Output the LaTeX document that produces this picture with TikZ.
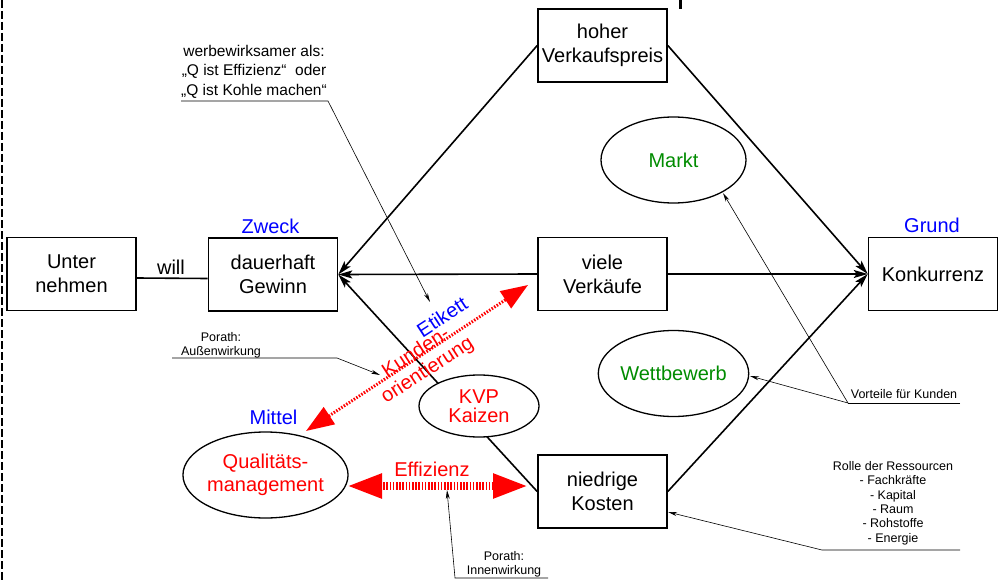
\documentclass[tikz,border=0pt]{standalone}
\usepackage{fontspec}
\setmainfont{Liberation Sans}
\usetikzlibrary{arrows.meta,shapes.geometric}
\definecolor{myblue}{RGB}{0,0,255}
\definecolor{mygreen}{RGB}{0,140,0}
\definecolor{myred}{RGB}{255,0,0}
\begin{document}
\begin{tikzpicture}[x=1pt,y=-1pt,
  box/.style={draw, line width=1.6pt, minimum width=129pt, minimum height=73pt, inner sep=0pt, align=center, font=\fontsize{20pt}{24pt}\selectfont},
  ell/.style={draw, ellipse, line width=1.3pt, minimum width=145pt, minimum height=86pt, inner sep=0pt, align=center, fill=white, font=\fontsize{20pt}{24pt}\selectfont},
  lbl/.style={font=\fontsize{20pt}{24pt}\selectfont, inner sep=0pt, anchor=base},
  conn/.style={line width=1.6pt, -{Stealth[length=14pt,width=8pt,inset=3pt]}},
  lead/.style={line width=0.6pt},
  leadarr/.style={lead, -{Stealth[length=9pt,width=4pt]}},
  small/.style={font=\fontsize{12.5pt}{14.4pt}\selectfont, inner sep=0pt, align=center},
  redarrow/.style={myred, dash pattern=on 1.5pt off 1.5pt}
]
\useasboundingbox (0,0) rectangle (1008,580);

% left dashed border and top mark
\draw[line width=2pt, dash pattern=on 8pt off 3pt] (2,0) -- (2,580);
\fill (679,0) rectangle (682,9);

% boxes
\node[box] (unt) at (71.5,274) {Unter\\nehmen};
\node[box] (gew) at (273,274.5) {dauerhaft\\Gewinn};
\node[box] (hvp) at (602.5,45.5) {hoher\\Verkaufspreis};
\node[box] (vv) at (602.5,274) {viele\\Verk\"aufe};
\node[box] (kon) at (933,274) {Konkurrenz};
\node[box] (nk) at (602.5,491.5) {niedrige\\Kosten};

% connectors
\draw[line width=1.6pt] ([yshift=-4pt]unt.east) -- ([yshift=-4pt]gew.west);
\node[lbl] (will) at (171,274) {will};
\draw[conn] (hvp.west) -- (gew.east);
\draw[conn] (hvp.east) -- (kon.west);
\draw[conn] (vv.west) -- (gew.east);
\draw[conn] (vv.east) -- (kon.west);
\draw[conn] (nk.west) -- (gew.east);
\draw[conn] (nk.east) -- (kon.west);

% ellipses
\node[ell, minimum width=120pt, minimum height=62pt, text=myred, font=\fontsize{20pt}{19.5pt}\selectfont] (kvp) at (479,406) {KVP\\Kaizen};
\node[ell, text=mygreen] (markt) at (673.5,160) {Markt};
\node[ell, text=mygreen] (wett) at (673.5,373.5) {Wettbewerb};
\node[ell, text=myred, font=\fontsize{20pt}{23pt}\selectfont] (qm) at (265.5,475) {Qualit\"ats-\\management};

% blue labels
\node[lbl, text=myblue] (zweck) at (270.5,233) {Zweck};
\node[lbl, text=myblue] (grund) at (932,232) {Grund};
\node[lbl, text=myblue] (mittel) at (273.5,424) {Mittel};

% red arrows
\coordinate (kA) at (306,431);
\coordinate (kB) at (528,285);
\draw[redarrow, line width=3pt, {Triangle[length=28pt,width=20pt]}-{Triangle[length=27pt,width=20pt]}] (kA) -- (kB);
\coordinate (eA) at (347,486);
\coordinate (eB) at (528,486);
\draw[redarrow, line width=8pt, dash pattern=on 1.6pt off 1.6pt, {Triangle[length=35pt,width=23pt]}-{Triangle[length=35pt,width=23pt]}] (eA) -- (eB);

\node[lbl, text=myblue, anchor=center, rotate=33] (etik) at (442,317) {Etikett};
\node[text=myred, rotate=33, align=center, font=\fontsize{20pt}{21pt}\selectfont, inner sep=0pt] (kund) at (422,362) {Kunden-\\orientierung};
\node[lbl, text=myred] (eff) at (432,476) {Effizienz};

% annotations
\node[font=\fontsize{15.5pt}{19.5pt}\selectfont, align=center, inner sep=0pt] (werb) at (254,71.5) {werbewirksamer als:\\„Q ist Effizienz“~ oder\\„Q ist Kohle machen“};
\coordinate (w1) at (181,101);
\coordinate (w2) at (328,101);
\coordinate (w3) at (430,302);
\draw[leadarr] (w1) -- (w2) -- (w3);

\node[small] (pa) at (221,345) {Porath:\\Au\ss enwirkung};
\coordinate (pa1) at (172,358);
\coordinate (pa2) at (337,358);
\coordinate (pa3) at (380,375);
\draw[leadarr] (pa1) -- (pa2) -- (pa3);

\node[small] (pin) at (504,564) {Porath:\\Innenwirkung};
\coordinate (pi1) at (548,578);
\coordinate (pi2) at (455,578);
\coordinate (pi3) at (447,490);
\draw[leadarr] (pi1) -- (pi2) -- (pi3);

\node[small, anchor=base] (vort) at (904,398) {Vorteile f\"ur Kunden};
\coordinate (v1) at (960,403);
\coordinate (v2) at (848,403);
\coordinate (v3) at (723,193);
\coordinate (v4) at (750,376);
\draw[lead] (v1) -- (v2);
\draw[leadarr] (v2) -- (v3);
\draw[leadarr] (v2) -- (v4);

\node[small] (rolle) at (893,503) {Rolle der Ressourcen\\- Fachkr\"afte\\- Kapital\\- Raum\\- Rohstoffe\\- Energie};
\coordinate (r1) at (960,550);
\coordinate (r2) at (822,550);
\coordinate (r3) at (668,512);
\draw[leadarr] (r1) -- (r2) -- (r3);
\end{tikzpicture}
\end{document}
